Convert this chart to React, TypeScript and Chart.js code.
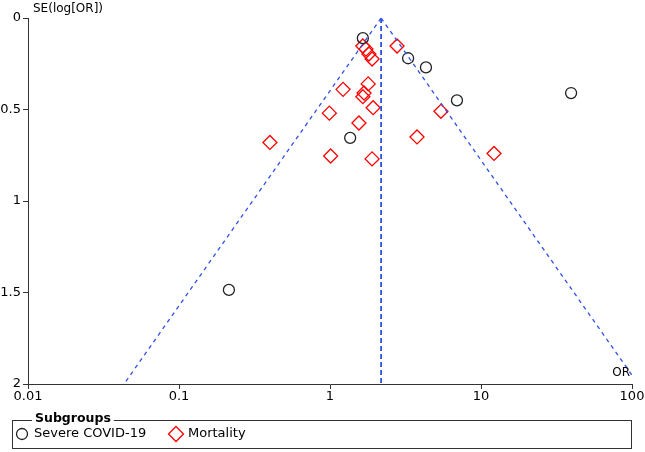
import { useEffect, useRef } from "react";
import { Chart, registerables } from "chart.js";

Chart.register(...registerables);

// Axis ticks
const xTicks = [0.01, 0.1, 1, 10, 100];
const yTicks = [0, 0.5, 1, 1.5, 2];

// Severe COVID-19 subgroup (OR, SE of log OR)
const severeOR = [1.65, 3.29, 4.32, 6.93, 39.5, 1.36, 0.214];
const severeSE = [0.11, 0.22, 0.27, 0.45, 0.41, 0.655, 1.486];

// Mortality subgroup
const mortalityOR = [2.78, 1.65, 1.73, 1.81, 1.9, 1.79, 1.22, 1.68, 1.65, 1.93, 0.99, 1.555, 1.01, 1.9, 0.4, 3.77, 5.43, 12.2];
const mortalitySE = [0.153, 0.153, 0.17, 0.197, 0.224, 0.36, 0.39, 0.41, 0.43, 0.49, 0.52, 0.574, 0.754, 0.77, 0.68, 0.65, 0.51, 0.74];

// Pooled estimate used for the funnel
const pooledOR = 2.18;
const seMax = 2;

const legendLabels = ["Severe COVID-19", "Mortality"];

const FONT = "'DejaVu Sans', sans-serif";
const BLUE = "#2f50e6";

export default function App() {
  const ref = useRef<HTMLCanvasElement>(null);

  useEffect(() => {
    document.body.style.margin = "0";
    const canvas = ref.current!;

    const overlay = {
      id: "overlay",
      afterDraw(chart: any) {
        const ctx = chart.ctx as CanvasRenderingContext2D;
        const area = chart.chartArea;
        ctx.save();
        ctx.fillStyle = "#000";
        ctx.font = `12px ${FONT}`;
        ctx.textBaseline = "middle";
        ctx.textAlign = "left";
        ctx.fillText("SE(log[OR])", area.left + 5, 9);
        ctx.textAlign = "right";
        ctx.fillText("OR", area.right - 2, area.bottom - 11);

        // legend
        const lx = 12.5, ly = 420.5, lw = 619, lh = 28;
        ctx.strokeStyle = "#333";
        ctx.lineWidth = 1;
        ctx.strokeRect(lx, ly, lw, lh);
        ctx.font = `bold 12.5px ${FONT}`;
        ctx.textAlign = "left";
        const title = "Subgroups";
        const tw = ctx.measureText(title).width;
        ctx.fillStyle = "#fff";
        ctx.fillRect(32, ly - 2, tw + 6, 4);
        ctx.fillStyle = "#000";
        ctx.fillText(title, 35, ly - 2);

        const iy = 434;
        ctx.font = `13px ${FONT}`;
        ctx.lineWidth = 1.3;
        ctx.strokeStyle = "#222";
        ctx.beginPath();
        ctx.arc(22, iy, 5.5, 0, Math.PI * 2);
        ctx.stroke();
        ctx.fillText(legendLabels[0], 34, iy);
        const dx = 176;
        ctx.strokeStyle = "#ff0000";
        ctx.beginPath();
        ctx.moveTo(dx, iy - 7.5);
        ctx.lineTo(dx + 7.5, iy);
        ctx.lineTo(dx, iy + 7.5);
        ctx.lineTo(dx - 7.5, iy);
        ctx.closePath();
        ctx.stroke();
        ctx.fillStyle = "#000";
        ctx.fillText(legendLabels[1], 188, iy);
        ctx.restore();
      },
    };

    const chart = new Chart(canvas, {
      type: "scatter",
      data: {
        datasets: [
          {
            type: "line",
            data: [
              { x: pooledOR, y: 0 },
              { x: pooledOR, y: seMax },
            ],
            borderColor: BLUE,
            borderWidth: 1.8,
            borderDash: [5, 3],
            pointRadius: 0,
            fill: false,
          },
          {
            type: "line",
            data: [
              { x: pooledOR, y: 0 },
              { x: pooledOR * Math.exp(-1.96 * seMax), y: seMax },
            ],
            borderColor: BLUE,
            borderWidth: 1.3,
            borderDash: [4, 4],
            pointRadius: 0,
            fill: false,
          },
          {
            type: "line",
            data: [
              { x: pooledOR, y: 0 },
              { x: pooledOR * Math.exp(1.96 * seMax), y: seMax },
            ],
            borderColor: BLUE,
            borderWidth: 1.3,
            borderDash: [4, 4],
            pointRadius: 0,
            fill: false,
          },
          {
            label: legendLabels[0],
            data: severeOR.map((v, i) => ({ x: v, y: severeSE[i] })),
            pointStyle: "circle",
            pointRadius: 5.5,
            borderColor: "#222",
            borderWidth: 1.3,
            backgroundColor: "rgba(0,0,0,0)",
          },
          {
            label: legendLabels[1],
            data: mortalityOR.map((v, i) => ({ x: v, y: mortalitySE[i] })),
            pointStyle: "rectRot",
            pointRadius: 7,
            borderColor: "#ff0000",
            borderWidth: 1.3,
            backgroundColor: "rgba(0,0,0,0)",
          },
        ],
      } as any,
      options: {
        responsive: false,
        animation: false,
        layout: { padding: { top: 18, right: 13, left: 0, bottom: 0 } },
        plugins: { legend: { display: false }, tooltip: { enabled: false } },
        scales: {
          x: {
            type: "logarithmic",
            min: 0.01,
            max: 100,
            afterBuildTicks: (s: any) => {
              s.ticks = xTicks.map((v) => ({ value: v }));
            },
            afterFit: (s: any) => {
              s.height = 68;
            },
            ticks: {
              autoSkip: false,
              maxRotation: 0,
              padding: 0,
              color: "#000",
              font: { family: FONT, size: 13 },
              callback: (v: any) => String(v),
            },
            grid: { display: true, drawOnChartArea: false, tickLength: 5, color: "#333" },
            border: { color: "#333", width: 1 },
          },
          y: {
            type: "linear",
            reverse: true,
            min: 0,
            max: seMax,
            afterBuildTicks: (s: any) => {
              s.ticks = yTicks.map((v) => ({ value: v }));
            },
            afterFit: (s: any) => {
              s.width = 28;
            },
            ticks: {
              padding: 2,
              color: "#000",
              font: { family: FONT, size: 13 },
              callback: (v: any) => String(v),
            },
            grid: { display: true, drawOnChartArea: false, tickLength: 5, color: "#333" },
            border: { color: "#333", width: 1 },
          },
        },
      },
      plugins: [overlay],
    } as any);

    return () => chart.destroy();
  }, []);

  return <canvas ref={ref} width={645} height={452} style={{ display: "block" }} />;
}
